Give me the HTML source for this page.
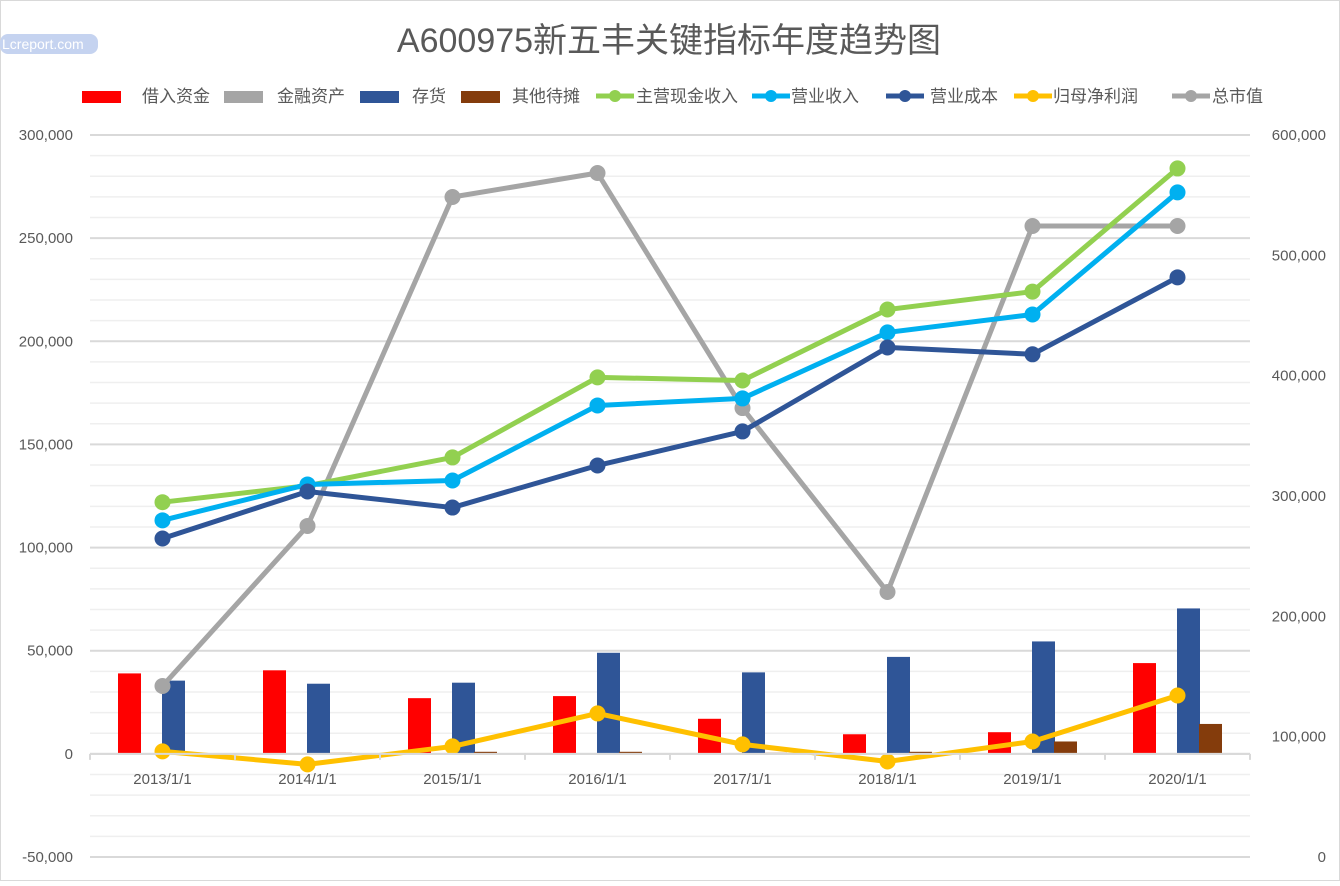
<!DOCTYPE html>
<html><head><meta charset="utf-8"><style>
body{margin:0;background:#fff;}
svg text{font-family:"Liberation Sans","Noto Sans CJK SC",sans-serif;}
</style></head><body>
<svg id="chart" width="1340" height="881" xmlns="http://www.w3.org/2000/svg">
<rect x="0.5" y="0.5" width="1339" height="880" fill="#fff" stroke="#d9d9d9"/>
<rect x="0" y="34" width="98" height="20" rx="8" fill="#c5d3f0"/>
<text x="2" y="49" font-size="14" fill="#fff">Lcreport.com</text>
<text x="669" y="52" font-size="34" fill="#595959" text-anchor="middle">A600975新五丰关键指标年度趋势图</text>
<g id="grid"></g><g id="bars"></g><g id="lines"></g><g id="axes"></g><g id="legend"></g>
</svg>
<script>
const categories=["2013/1/1","2014/1/1","2015/1/1","2016/1/1","2017/1/1","2018/1/1","2019/1/1","2020/1/1"];
const borrow=[39000,40500,27000,28000,17000,9500,10500,44000];
const finAsset=[0,0,0,0,0,0,0,0];
const inventory=[35500,34000,34500,49000,39500,47000,54500,70500];
const otherAmort=[0,500,1000,1000,500,1000,6000,14500];
const cashRevenue=[122000,130000,143700,182500,181000,215400,224100,283800];
const revenue=[113200,130600,132500,168900,172300,204300,213000,272200];
const cost=[104400,127200,119400,139800,156300,197000,193700,231000];
const netProfit=[1200,-5100,3600,19600,4600,-3700,6000,28300];
const marketCap=[142100,275100,548500,568400,373100,220200,524400,524400];
const leftTicks=[-50000,0,50000,100000,150000,200000,250000,300000];
const rightTicks=[0,100000,200000,300000,400000,500000,600000];
const NS="http://www.w3.org/2000/svg";
const X0=90,X1=1250,YT=135,YB=857,CW=(X1-X0)/categories.length;
const yL=v=>YB-(v+50000)/350000*(YB-YT);
const yR=v=>YB-v/600000*(YB-YT);
const xC=i=>X0+CW*i+CW/2;
function mk(tag,attrs,parent){const e=document.createElementNS(NS,tag);for(const k in attrs)e.setAttribute(k,attrs[k]);document.getElementById(parent).appendChild(e);return e;}
const fmt=v=>v<0?"-"+Math.abs(v).toLocaleString("en-US"):v.toLocaleString("en-US");
for(let v=-50000;v<=300000;v+=10000){
 const g=mk("line",{x1:X0,x2:X1,y1:yL(v),y2:yL(v),stroke:v%50000===0?"#d9d9d9":"#efefef","stroke-width":v%50000===0?2:1.5},"grid");
 
 
}
leftTicks.forEach(v=>{const t=mk("text",{x:73,y:yL(v)+5,"font-size":15,fill:"#595959","text-anchor":"end"},"axes");t.textContent=fmt(v);
 
 });
rightTicks.forEach(v=>{const t=mk("text",{x:1326,y:yR(v)+5,"font-size":15,fill:"#595959","text-anchor":"end"},"axes");t.textContent=fmt(v);
 
 });
const ax=mk("line",{x1:X0,x2:X1,y1:yL(0),y2:yL(0),stroke:"#d9d9d9","stroke-width":2},"axes");


for(let i=0;i<=categories.length;i++){const t=mk("line",{x1:X0+CW*i,x2:X0+CW*i,y1:yL(0),y2:yL(0)+6,stroke:"#d9d9d9","stroke-width":2},"axes");
 
 }
categories.forEach((c,i)=>{const t=mk("text",{x:xC(i),y:yL(0)+30,"font-size":15,fill:"#595959","text-anchor":"middle"},"axes");t.textContent=c;
 
 });
const barSeries=[[borrow,"#ff0000",28],[finAsset,"#a5a5a5",50],[inventory,"#2f5597",72],[otherAmort,"#843c0c",94]];
barSeries.forEach(([arr,col,off])=>arr.forEach((v,i)=>{
 const y=Math.min(yL(v),yL(0)),h=Math.abs(yL(v)-yL(0));
 const r=mk("rect",{x:X0+CW*i+off,y:y,width:23,height:Math.max(h,0),fill:col},"bars");
 
 
}));
const lineSeries=[[marketCap,"#a5a5a5",yR],[cashRevenue,"#92d050",yL],[revenue,"#00b0f0",yL],[cost,"#2f5597",yL],[netProfit,"#ffc000",yL]];
lineSeries.forEach(([arr,col,fy])=>{
 const p=mk("polyline",{points:arr.map((v,i)=>xC(i)+","+fy(v)).join(" "),fill:"none",stroke:col,"stroke-width":5,"stroke-linejoin":"round"},"lines");
 
 
 arr.forEach((v,i)=>{const c=mk("circle",{cx:xC(i),cy:fy(v),r:8,fill:col},"lines");
  
  });
});
const legendItems=[["借入资金","#ff0000","bar",82,142],["金融资产","#a5a5a5","bar",224,277],["存货","#2f5597","bar",360,412],["其他待摊","#843c0c","bar",461,512],["主营现金收入","#92d050","line",596,636],["营业收入","#00b0f0","line",752,791],["营业成本","#2f5597","line",886,930],["归母净利润","#ffc000","line",1014,1053],["总市值","#a5a5a5","line",1172,1212]];
legendItems.forEach(([label,col,type,sx,tx])=>{
 if(type==="bar"){const r=mk("rect",{x:sx,y:91,width:39,height:12,fill:col},"legend");
  
  }
 else{const l=mk("line",{x1:sx,x2:sx+38,y1:96,y2:96,stroke:col,"stroke-width":5},"legend");
  
  
  const c=mk("circle",{cx:sx+19,cy:96,r:6,fill:col},"legend");
  
  }
 const t=mk("text",{x:tx,y:102,"font-size":17,fill:"#595959"},"legend");t.textContent=label;
 
 
});
</script>
</body></html>
